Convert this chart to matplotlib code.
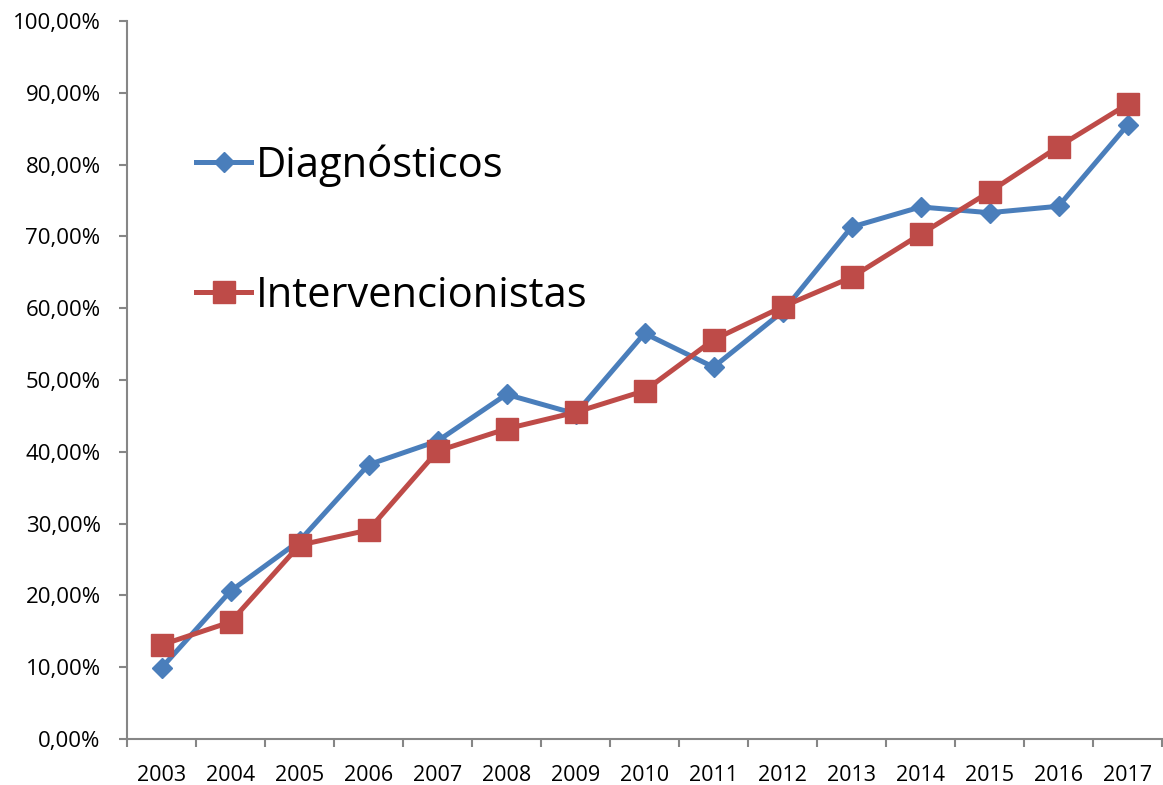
import matplotlib
matplotlib.use("Agg")
import matplotlib.pyplot as plt
from matplotlib.ticker import FixedLocator, FuncFormatter

years = ["2003", "2004", "2005", "2006", "2007", "2008", "2009", "2010",
         "2011", "2012", "2013", "2014", "2015", "2016", "2017"]
diagnosticos = [9.9, 20.6, 27.6, 38.2, 41.5, 48.0, 45.3, 56.5, 51.8, 59.5,
                71.3, 74.1, 73.3, 74.2, 85.5]
intervencionistas = [13.1, 16.3, 27.0, 29.1, 40.1, 43.2, 45.5, 48.5, 55.6, 60.2,
                     64.3, 70.3, 76.2, 82.5, 88.4]

plt.rcParams['font.family'] = ['Open Sans', 'DejaVu Sans']

fig = plt.figure(figsize=(11.63, 7.85), dpi=100)
ax = fig.add_axes([127/1163, 46/785, 1035/1163, 718/785])

x = list(range(len(years)))
ax.plot(x, diagnosticos, color="#4a7ebb", lw=3.6, marker="D", markersize=10.5,
        label="Diagnósticos", solid_joinstyle="round")
ax.plot(x, intervencionistas, color="#be4b48", lw=3.6, marker="s", markersize=15.5,
        label="Intervencionistas", solid_joinstyle="round")

ax.set_xlim(-0.5, len(years) - 0.5)
ax.set_ylim(0, 100)
ax.set_yticks(range(0, 101, 10))
ax.yaxis.set_major_formatter(FuncFormatter(lambda v, p: f"{v:.2f}".replace(".", ",") + "%"))
ax.set_xticks(x)
ax.set_xticklabels(years)
ax.xaxis.set_minor_locator(FixedLocator([i - 0.5 for i in range(len(years) + 1)]))
ax.tick_params(axis="x", which="major", length=0, pad=19, labelsize=15.5)
ax.tick_params(axis="x", which="minor", length=6, width=1.5, color="#868686")
ax.tick_params(axis="y", length=6, width=1.5, color="#868686", pad=13, labelsize=16)

for s in ["top", "right"]:
    ax.spines[s].set_visible(False)
for s in ["left", "bottom"]:
    ax.spines[s].set_color("#868686")
    ax.spines[s].set_linewidth(1.5)

leg = ax.legend(loc="upper left", bbox_to_anchor=(0.047, 0.857), frameon=False,
                fontsize=30, handlelength=1.3, handletextpad=0.12, labelspacing=2.1,
                borderpad=0)

fig.savefig("out.png", dpi=100)
